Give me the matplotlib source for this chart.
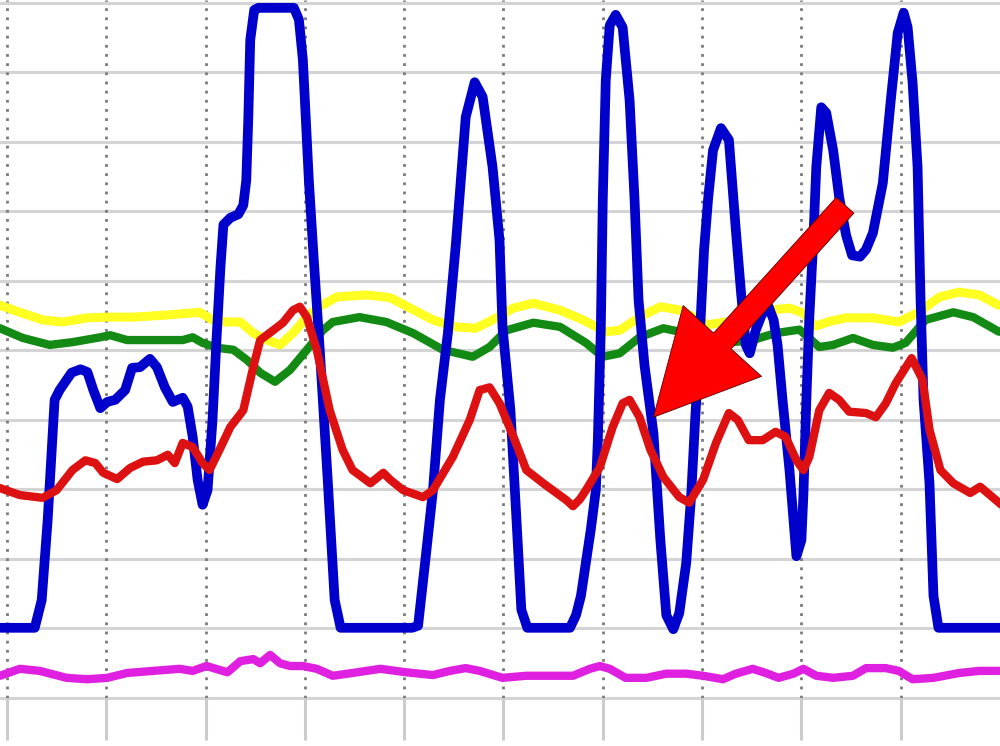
import matplotlib
matplotlib.use("Agg")
import matplotlib.pyplot as plt

# x in grid units (dotted lines at 0..9), y on a 0..100 scale (gridline every 10)
t_blue = [-0.07, 0.28, 0.35, 0.41, 0.48, 0.53, 0.65, 0.74, 0.81, 0.87, 0.94, 1.01, 1.09, 1.19, 1.26,
          1.34, 1.44, 1.51, 1.59, 1.67, 1.77, 1.82, 1.87, 1.92, 1.97, 2.02, 2.07, 2.11, 2.15, 2.18,
          2.25, 2.33, 2.38, 2.41, 2.43, 2.45, 2.49, 2.53, 2.89, 2.94, 2.98, 3.04, 3.09, 3.15, 3.23,
          3.30, 3.36, 4.08, 4.14, 4.21, 4.29, 4.36, 4.44, 4.52, 4.62, 4.71, 4.79, 4.89, 4.96, 4.99,
          5.07, 5.12, 5.18, 5.24, 5.67, 5.73, 5.78, 5.88, 5.93, 5.95, 5.98, 6.00, 6.03, 6.07, 6.13,
          6.20, 6.27, 6.32, 6.36, 6.42, 6.51, 6.58, 6.64, 6.71, 6.77, 6.84, 6.89, 6.93, 6.97, 7.02,
          7.06, 7.11, 7.19, 7.27, 7.34, 7.39, 7.44, 7.48, 7.54, 7.60, 7.67, 7.72, 7.76, 7.81, 7.88,
          7.95, 8.00, 8.02, 8.05, 8.08, 8.12, 8.15, 8.20, 8.25, 8.32, 8.38, 8.45, 8.51, 8.59, 8.65,
          8.72, 8.82, 8.90, 8.97, 9.03, 9.07, 9.12, 9.17, 9.20, 9.23, 9.29, 9.33, 9.38, 10.0]
blue = [10.1, 10.1, 14.1, 25.6, 42.9, 44.3, 46.8, 47.3, 46.9, 44.3, 41.7, 42.6, 42.9, 44.3, 47.5,
        47.6, 48.8, 47.6, 44.7, 42.6, 43.2, 41.9, 37.6, 31.4, 27.8, 29.9, 40.0, 51.5, 62.0, 68.1,
        69.1, 69.6, 70.9, 74.5, 83.2, 94.7, 99.0, 99.3, 99.3, 97.6, 91.8, 74.5, 63.0, 50.1, 31.4,
        14.1, 10.1, 10.1, 10.4, 19.4, 29.9, 42.9, 52.5, 65.2, 83.6, 88.6, 86.5, 76.4, 65.9, 53.4,
        41.4, 28.5, 12.7, 10.1, 10.1, 11.9, 14.7, 24.3, 29.9, 37.1, 52.9, 71.7, 88.9, 96.8, 98.3,
        96.5, 86.0, 71.7, 57.3, 47.9, 38.1, 22.7, 11.9, 9.9, 12.2, 19.4, 29.1, 40.0, 50.1, 64.5,
        71.7, 78.8, 82.0, 80.3, 67.3, 58.7, 50.8, 49.6, 52.9, 55.1, 56.3, 54.4, 50.8, 42.9, 32.8,
        20.4, 22.7, 29.1, 42.9, 54.8, 65.9, 76.4, 85.0, 84.2, 78.8, 72.1, 66.6, 63.7, 63.5, 64.5,
        66.9, 74.1, 86.0, 95.7, 98.6, 96.5, 88.5, 76.4, 57.3, 42.9, 30.9, 14.7, 10.1, 10.1]

t_red = [-0.07, 0.13, 0.36, 0.50, 0.66, 0.79, 0.89, 0.97, 1.11, 1.24, 1.37, 1.51, 1.62, 1.69, 1.77,
         1.87, 1.97, 2.04, 2.14, 2.25, 2.38, 2.48, 2.55, 2.68, 2.78, 2.88, 2.95, 3.02, 3.12, 3.25,
         3.38, 3.48, 3.66, 3.79, 3.86, 3.99, 4.19, 4.29, 4.49, 4.66, 4.76, 4.86, 4.96, 5.10, 5.23,
         5.40, 5.63, 5.70, 5.77, 5.83, 5.97, 6.10, 6.20, 6.27, 6.37, 6.48, 6.61, 6.77, 6.87, 7.01,
         7.14, 7.27, 7.36, 7.47, 7.61, 7.74, 7.84, 7.95, 8.02, 8.08, 8.18, 8.28, 8.38, 8.48, 8.65,
         8.75, 8.85, 8.95, 9.11, 9.22, 9.29, 9.40, 9.53, 9.70, 9.80, 9.99]
red = [30.2, 29.2, 28.8, 29.9, 32.8, 34.2, 33.8, 32.4, 31.5, 33.1, 34.0, 34.2, 35.0, 33.8, 36.7,
       36.1, 33.8, 32.8, 35.7, 39.0, 41.4, 47.6, 51.5, 52.9, 54.0, 55.8, 56.3, 54.8, 50.1, 41.4,
       35.7, 32.8, 30.9, 32.4, 31.4, 29.9, 28.9, 29.9, 34.7, 40.0, 44.3, 44.7, 42.4, 37.6, 32.8,
       30.9, 28.5, 27.6, 28.6, 29.9, 33.2, 39.0, 42.4, 42.9, 40.4, 35.7, 31.8, 28.9, 28.1, 31.4,
       36.7, 41.0, 40.0, 37.1, 37.1, 38.3, 37.6, 34.2, 32.8, 34.7, 41.4, 43.9, 42.9, 41.2, 41.0,
       40.4, 42.4, 45.3, 48.9, 45.8, 38.6, 32.8, 30.9, 29.5, 30.4, 28.1]

t_yellow = [-0.07, 0.13, 0.36, 0.56, 0.81, 1.01, 1.27, 1.61, 1.94, 2.07, 2.22, 2.35, 2.48, 2.62, 2.75,
            2.88, 3.02, 3.15, 3.32, 3.62, 3.86, 4.06, 4.29, 4.52, 4.72, 4.89, 5.10, 5.30, 5.57, 5.80,
            6.03, 6.17, 6.37, 6.58, 6.78, 7.06, 7.24, 7.38, 7.68, 7.88, 8.02, 8.14, 8.29, 8.45, 8.72,
            8.98, 9.18, 9.39, 9.59, 9.79, 9.99]
yellow = [56.5, 55.5, 54.4, 54.1, 54.7, 54.8, 54.8, 55.1, 55.5, 54.4, 54.1, 54.1, 52.5, 51.5, 50.8,
          52.5, 54.8, 56.3, 57.7, 58.0, 57.6, 56.1, 54.4, 53.4, 53.2, 54.4, 56.1, 56.8, 55.8, 54.4,
          52.7, 52.9, 54.8, 56.3, 55.8, 53.7, 54.1, 54.4, 55.8, 56.1, 55.4, 53.5, 54.2, 54.7, 54.7,
          54.1, 55.5, 57.7, 58.4, 58.0, 56.5]

t_green = [-0.07, 0.16, 0.43, 0.66, 0.94, 1.04, 1.21, 1.44, 1.77, 1.87, 1.97, 2.11, 2.28, 2.42, 2.55,
           2.70, 2.85, 3.02, 3.18, 3.28, 3.55, 3.82, 4.09, 4.39, 4.69, 4.86, 5.03, 5.30, 5.57, 5.83,
           6.00, 6.17, 6.37, 6.61, 6.84, 7.04, 7.24, 7.51, 7.74, 7.98, 8.18, 8.32, 8.52, 8.72, 8.92,
           9.05, 9.25, 9.53, 9.73, 9.99]
green = [53.2, 51.8, 50.8, 51.2, 51.9, 52.2, 51.5, 51.5, 51.5, 51.9, 51.1, 50.4, 50.1, 48.6, 46.8,
         45.5, 47.2, 50.1, 52.9, 54.1, 54.8, 54.1, 52.5, 50.1, 49.1, 50.5, 52.9, 54.0, 53.4, 51.1,
         49.1, 49.6, 51.9, 53.2, 52.5, 50.8, 51.1, 51.5, 52.5, 53.0, 50.5, 50.8, 51.8, 50.8, 50.4,
         51.1, 54.4, 55.5, 54.8, 52.7]

t_magenta = [-0.07, 0.13, 0.33, 0.60, 0.81, 1.01, 1.21, 1.47, 1.74, 1.87, 2.01, 2.22, 2.35, 2.48, 2.55,
             2.65, 2.75, 2.85, 2.98, 3.12, 3.28, 3.48, 3.76, 4.02, 4.29, 4.46, 4.62, 4.76, 4.99, 5.23,
             5.47, 5.70, 5.87, 5.97, 6.07, 6.23, 6.44, 6.64, 6.84, 7.01, 7.21, 7.34, 7.51, 7.64, 7.77,
             7.92, 8.02, 8.15, 8.32, 8.52, 8.65, 8.85, 8.98, 9.12, 9.33, 9.59, 9.79, 9.99]
magenta = [3.2, 4.2, 3.9, 2.9, 2.7, 2.9, 3.6, 3.9, 4.2, 3.9, 4.6, 3.7, 5.3, 5.6, 5.0,
           6.2, 5.0, 4.6, 4.6, 4.2, 3.2, 3.6, 4.2, 3.7, 3.3, 3.9, 4.3, 3.9, 2.9, 3.2,
           3.2, 3.2, 4.2, 4.6, 4.2, 2.9, 2.9, 3.5, 3.5, 3.2, 2.7, 3.5, 4.2, 3.6, 2.9,
           3.5, 4.2, 3.2, 2.9, 3.2, 4.3, 4.3, 3.9, 2.7, 2.9, 3.6, 3.9, 3.9]

x_ticks = list(range(10))
y_ticks = list(range(0, 101, 10))
arrow_tip = (6.51, 40.4)
arrow_tail = (8.44, 70.9)

fig = plt.figure(figsize=(10, 7.46), dpi=100)
ax = fig.add_axes([0, 48 / 746, 1, 698 / 746])

for y in y_ticks:
    ax.axhline(y, color='#d4d4d4', lw=2.2, zorder=1, clip_on=False)
for x in x_ticks:
    ax.axvline(x, color='#7a7a7a', lw=2.0, ls=(0, (1, 2.3)), zorder=1)

ax.plot(t_yellow, yellow, color='#ffff22', lw=6.5, solid_capstyle='round', zorder=3)
ax.plot(t_green, green, color='#138a13', lw=6, solid_capstyle='round', zorder=3)
ax.plot(t_magenta, magenta, color='#e020e0', lw=6, solid_capstyle='round', zorder=3)
ax.plot(t_blue, blue, color='#0000cc', lw=7, solid_joinstyle='round', zorder=4)
ax.plot(t_red, red, color='#dd1111', lw=6, solid_joinstyle='round', zorder=5)

ax.annotate('', xy=arrow_tip, xytext=arrow_tail,
            arrowprops=dict(width=17, headwidth=76, headlength=74, shrink=0,
                            facecolor='#ff0000', edgecolor='#550000', lw=0.6),
            zorder=6)

ax.set_xlim(-0.07, 10.0)
ax.set_ylim(0, 100.43)
ax.set_xticks(x_ticks)
ax.set_yticks([])
ax.tick_params(axis='x', length=30, width=2.2, color='#cccccc', labelbottom=False)
for s in ax.spines.values():
    s.set_visible(False)

fig.savefig('out.png', dpi=100)
